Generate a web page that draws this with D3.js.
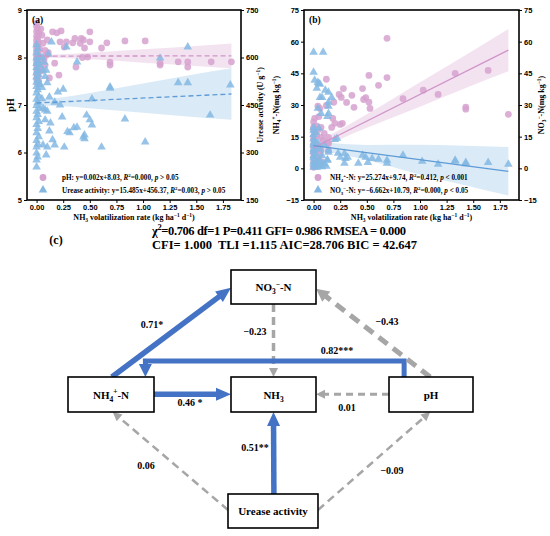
<!DOCTYPE html>
<html>
<head>
<meta charset="utf-8">
<script src="https://cdn.jsdelivr.net/npm/d3@7"></script>
<style>
  body { margin: 0; background: #fff; }
  svg { font-family: "Liberation Serif", "Times New Roman", serif; font-weight: bold; }
  text { white-space: pre; }
</style>
</head>
<body>
<svg id="fig" width="550" height="536"></svg>
<script>
// ---------------- data ----------------
var xTicks = [0, 0.25, 0.5, 0.75, 1.0, 1.25, 1.5, 1.75];
var phTicks = [5, 6, 7, 8, 9];
var ureaseTicks = [150, 300, 450, 600, 750];
var nTicks = [-15, 0, 15, 30, 45, 60, 75];

// panel (a): [NH3 rate, pH]
var phPoints = [
  [0,8.72],[0,8.66],[0.01,8.6],[0,8.55],[0.02,8.5],[0,8.45],[0.01,8.41],[0,8.36],[0.02,8.32],[0,8.28],
  [0.01,8.24],[0,8.2],[0.03,8.17],[0,8.13],[0.01,8.09],[0,8.05],[0.02,8.02],[0,7.98],[0.01,7.94],[0,7.9],
  [0.03,7.87],[0,7.83],[0.01,7.79],[0,7.74],[0.02,7.7],[0,7.65],[0.01,7.6],[0,7.55],[0.02,7.5],[0.01,7.45],
  [0.05,8.47],[0.06,8.3],[0.1,8.37],[0.08,8.15],[0.09,8.05],[0.07,7.95],[0.08,7.84],[0.05,7.72],[0.12,7.57],
  [0.11,8.1],[0.04,8.6],[0.06,8.0],[0.15,8.54],[0.19,8.52],[0.23,8.56],[0.22,8.33],[0.28,8.33],[0.34,8.31],
  [0.26,8.22],[0.17,7.88],[0.21,7.63],[0.36,8.4],[0.41,8.3],[0.42,8.4],[0.45,8.2],[0.44,8.37],[0.5,8.54],
  [0.5,8.33],[0.48,8.01],[0.37,7.8],[0.43,8.0],[0.61,8.2],[0.66,8.31],[0.69,7.9],[0.69,7.84],[0.83,8.35],
  [1.02,8.35],[1.16,7.88],[1.16,7.84],[1.33,7.91],[1.42,7.91],[1.42,7.8],[1.64,7.91],[1.83,7.91]
];
// panel (a): [NH3 rate, urease activity]
var ureasePoints = [
  [0,640],[0.01,628],[0,615],[0.02,605],[0,598],[0.01,590],[0,582],[0.03,575],[0,568],[0.01,560],
  [0,552],[0.02,545],[0,538],[0.01,530],[0,522],[0.03,515],[0,508],[0.01,498],[0,488],[0.02,478],
  [0,468],[0.01,458],[0,448],[0.03,440],[0,430],[0.01,420],[0,410],[0.02,398],[0,388],[0.01,376],
  [0,362],[0.02,350],[0,338],[0.01,326],[0,317],[0,298],[0.01,286],[0,276],[0,254],
  [0.05,600],[0.07,585],[0.06,560],[0.08,540],[0.1,520],[0.05,505],[0.12,475],[0.08,434],[0.1,430],
  [0.08,403],[0.13,393],[0.06,440],[0.12,368],[0.1,317],[0.06,324],[0.09,292],[0.05,470],[0.09,560],
  [0.11,610],[0.14,649],[1.42,633],[1.16,598],[0.38,586],[0.28,633],[1.33,520],[1.42,520],[1.82,513],
  [0.69,507],[0.69,503],[0.52,469],[0.25,500],[0.2,491],[1.63,418],[0.83,406],[0.47,418],[0.5,403],
  [0.52,387],[0.24,412],[0.17,459],[0.22,450],[0.38,380],[0.35,378],[0.31,362],[0.29,366],[0.45,355],
  [0.44,349],[0.45,343],[0.61,317],[1.02,333],[0.15,340],[0.17,324],[0.26,317]
];
// panel (b): [NH3 rate, NH4+-N]
var nh4Points = [
  [0.69,61.6],[0.69,43],[0.52,44],[0.61,39.3],[0.46,37.8],[0.47,32.6],[0.49,33.5],[0.52,31.3],[0.53,28.4],
  [0.36,34.6],[0.38,28.9],[0.31,31.2],[0.28,37.8],[0.26,33.6],[0.24,35],[0.19,31.3],[0.12,42.2],[0.12,29.8],
  [0.18,23.7],[0.25,20.8],[0.27,21.3],[0.2,21.3],[0.17,19.4],[0.84,33],[1.03,37],[1.17,35],[1.33,45],
  [1.64,46.4],[1.43,29],[1.43,28],[1.83,25.6],[0.04,29.5],[0.01,23.7],[0.06,28.4],[0.07,19.4],[0.13,12.3],
  [0.09,13.3],[0.14,11.8],[0.07,14.7],[0.07,8.5],[0.04,5.2],[0.14,8.5],[0.1,16.5],[0.14,14.7],[0.05,24.5],
  [0.03,20],[0,22],[0,19.5],[0,18],[0.01,16.5],[0,15],[0,13.5],[0.01,12],[0,11],[0,10],[0.02,9],[0,8],
  [0,7],[0.01,6],[0,5],[0.02,4],[0,3],[0.01,2],[0.03,1],[0,0.5],[0.02,11],[0.03,15.5],[0.05,10],[0.04,18],
  [0.06,6.5],[0.08,3]
];
// panel (b): [NH3 rate, NO3--N]
var no3Points = [
  [0,55],[0.09,55],[0,45.5],[0.01,41.7],[0.04,40.7],[0.06,39.8],[0.05,40.2],[0.03,37.9],[0.11,37],[0.14,36],
  [0.14,31.3],[0.06,33.6],[0.08,33.6],[0.17,33.6],[0.14,29.4],[0.13,24.6],[0.04,28.4],[0.07,26],[0.14,26],
  [0,19.4],[0.02,17],[0.05,19],[0.2,13.7],[0.22,14.2],[0,18],[0,16],[0,14],[0.01,13],[0,12],[0,11],
  [0.01,10],[0,9],[0,8],[0.02,7],[0,6],[0,5],[0.01,4],[0,3],[0,2],[0.02,1],[0,0.5],[0.01,1.5],[0.03,3],
  [0.03,0.5],[0.04,2],[0.05,4],[0.06,1],[0.07,3],[0.08,0.8],[0.1,2],[0.12,1],[0.13,4],[0.04,12],[0.06,9],
  [0.08,6],[0.1,11],[0.14,8.5],[0.13,3.8],[0.14,7.6],[0.23,7.1],[0.25,5.2],[0.29,7],[0.32,5.2],[0.3,4.7],
  [0.29,2.4],[0.42,2.4],[0.46,6.2],[0.49,5.2],[0.51,2.8],[0.55,4.7],[0.61,4.3],[0.69,3.8],[0.69,2.4],
  [0.84,6.2],[1.02,3.3],[1.17,1.9],[1.33,3.3],[1.33,3.8],[1.43,2.8],[1.43,2.2],[1.64,2.8],[1.83,1.9]
];

// fitted lines (slope, intercept) from the legends
var phFit = [0.002, 8.03];
var ureaseFit = [15.485, 456.37];
var nh4Fit = [25.274, 9.74];
var no3Fit = [-6.662, 10.79];
var fitRange = [0, 1.83];

// confidence band half widths read at these x values
var bandX = [0, 0.25, 0.5, 1.0, 1.5, 1.83];
var phBand = [0.03, 0.04, 0.07, 0.14, 0.21, 0.26];
var ureaseBand = [9, 14, 24, 46, 68, 81];
var nh4Band = [2.0, 2.3, 3.2, 5.8, 8.2, 10];
var no3Band = [2.0, 2.5, 3.6, 7.0, 9.8, 11.5];

var legendA = ["pH: y=0.002x+8.03, ~{R}^{2}=0.000, ~{p} > 0.05",
               "Urease activity: y=15.485x+456.37, ~{R}^{2}=0.003, ~{p} > 0.05"];
var legendB = ["NH_{4}^{+}-N: y=25.274x+9.74, ~{R}^{2}=0.412, ~{p} < 0.001",
               "NO_{3}^{\u2212}-N: y=\u22126.662x+10.79, ~{R}^{2}=0.000, ~{p} < 0.05"];

// path model
var fitStats = ["\u03c7^{2}=0.706 df=1 P=0.411 GFI= 0.986 RMSEA = 0.000",
                "CFI= 1.000  TLI =1.115 AIC=28.706 BIC = 42.647"];
var nodes = [
  {id: "no3", label: "NO_{3}^{\u2212}-N"},
  {id: "nh4", label: "NH_{4}^{+}-N"},
  {id: "nh3", label: "NH_{3}"},
  {id: "ph",  label: "pH"},
  {id: "ure", label: "Urease activity"}
];
var paths = [
  {from: "nh4", to: "no3", coef: "0.71*",   sig: true},
  {from: "no3", to: "nh3", coef: "\u22120.23", sig: false},
  {from: "ph",  to: "nh4", coef: "0.82***", sig: true},
  {from: "nh4", to: "nh3", coef: "0.46 *",  sig: true},
  {from: "ph",  to: "nh3", coef: "0.01",    sig: false},
  {from: "ph",  to: "no3", coef: "\u22120.43", sig: false},
  {from: "ure", to: "nh3", coef: "0.51**",  sig: true},
  {from: "ure", to: "nh4", coef: "0.06",    sig: false},
  {from: "ure", to: "ph",  coef: "\u22120.09", sig: false}
];

// ---------------- layout ----------------
var statsLayout = {x: 152, y: [235, 249], size: 12.5, len: [254, 265]};
var boxes = {
  no3: {x: 231, y: 270, w: 85, h: 34},
  nh4: {x: 68,  y: 377, w: 86, h: 35},
  nh3: {x: 231, y: 377, w: 85, h: 35},
  ph:  {x: 389, y: 377, w: 84, h: 35},
  ure: {x: 228, y: 494, w: 90, h: 34}
};
// anchor points as fractions of the boxes, label spots, line widths
var pathLayout = {
  "nh4-no3": {a: [0.51, 0], b: [0, 0.52], w: 5.5, head: [15, 6.5], lab: [152, 328]},
  "no3-nh3": {a: [0.5, 1], b: [0.5, 0], w: 3.5, head: [9, 4.5], dash: "8,5", lab: [255, 335]},
  "ph-nh4":  {a: [0.18, 0], b: [0.9, 0], elbow: 361, w: 5, head: [13, 6.5], lab: [337, 354]},
  "nh4-nh3": {a: [1, 0.49], b: [0, 0.49], w: 5.5, head: [15, 6.5], lab: [190, 406]},
  "ph-nh3":  {a: [0, 0.49], b: [1, 0.49], w: 3, head: [9, 4.5], dash: "7,5", lab: [347, 411]},
  "ph-no3":  {a: [0.49, 0], b: [1, 0.55], w: 5, head: [13, 6.5], dash: "11,7", lab: [387, 325]},
  "ure-nh3": {a: [0.51, 0], b: [0.5, 1], w: 5.5, head: [14, 6.5], lab: [255, 451]},
  "ure-nh4": {a: [0, 0.47], b: [0.52, 1], w: 2.5, head: [9, 4.5], dash: "8,5", lab: [146, 469]},
  "ure-ph":  {a: [1, 0.47], b: [0.49, 1], w: 2.5, head: [9, 4.5], dash: "8,5", lab: [392, 474]}
};

var blue = "#4472c4", grey = "#a6a6a6";
var pink = "#d6a2cf", sky = "#84b8e3";

var svg = d3.select("#fig");

// text with _{sub}, ^{sup} and ~{italic} pieces
function rich(sel, str, size) {
  var cur = 0;
  str.split(/(_\{[^}]*\}|\^\{[^}]*\}|~\{[^}]*\})/).forEach(function(p) {
    if (!p) return;
    var txt = p, off = 0, fs = size, it = false;
    if (/^[_^~]\{/.test(p)) {
      txt = p.slice(2, -1);
      if (p[0] == "_") { off = size * 0.28; fs = size * 0.68; }
      if (p[0] == "^") { off = -size * 0.38; fs = size * 0.68; }
      if (p[0] == "~") { it = true; }
    }
    sel.append("tspan")
      .attr("dy", off - cur)
      .attr("font-size", fs)
      .attr("font-style", it ? "italic" : null)
      .text(txt);
    cur = off;
  });
  return sel;
}

function styleAxis(g) {
  g.select(".domain").remove();
  g.selectAll("line").attr("stroke", "#000").attr("stroke-width", 1);
  g.selectAll("text").attr("font-size", 7.5).attr("font-weight", "bold").attr("fill", "#000");
}

function bandArea(x, y, fit, band) {
  return d3.area()
    .x(function(d) { return x(d); })
    .y0(function(d, i) { return y(fit[0] * d + fit[1] - band[i]); })
    .y1(function(d, i) { return y(fit[0] * d + fit[1] + band[i]); })
    .curve(d3.curveMonotoneX)(bandX);
}

function fitLine(x, y, fit) {
  return d3.line()
    .x(function(d) { return x(d); })
    .y(function(d) { return y(fit[0] * d + fit[1]); })(fitRange);
}

function drawPanel(o) {
  var g = svg.append("g");
  var x = o.x, yl = o.yl, yr = o.yr;
  var x0 = x.range()[0], x1 = x.range()[1], y0 = yl.range()[1], y1 = yl.range()[0];

  g.append("path").attr("d", bandArea(x, yl, o.fitL, o.bandL)).attr("fill", pink).attr("fill-opacity", 0.3);
  g.append("path").attr("d", bandArea(x, yr, o.fitR, o.bandR)).attr("fill", sky).attr("fill-opacity", 0.3);

  g.selectAll(".c").data(o.ptsL).enter().append("circle")
    .attr("cx", function(d) { return x(d[0]); })
    .attr("cy", function(d) { return yl(d[1]); })
    .attr("r", 3.4)
    .attr("fill", pink).attr("fill-opacity", 0.85);
  g.selectAll(".t").data(o.ptsR).enter().append("path")
    .attr("d", d3.symbol(d3.symbolTriangle, 32))
    .attr("transform", function(d) { return "translate(" + x(d[0]) + "," + yr(d[1]) + ")"; })
    .attr("fill", sky).attr("fill-opacity", 0.85);

  g.append("path").attr("d", fitLine(x, yl, o.fitL)).attr("fill", "none")
    .attr("stroke", "#cf95c8").attr("stroke-width", 1.3).attr("stroke-dasharray", o.dash);
  g.append("path").attr("d", fitLine(x, yr, o.fitR)).attr("fill", "none")
    .attr("stroke", "#5f9bd6").attr("stroke-width", 1.3).attr("stroke-dasharray", o.dash);

  g.append("rect").attr("x", x0).attr("y", y0).attr("width", x1 - x0).attr("height", y1 - y0)
    .attr("fill", "none").attr("stroke", "#000").attr("stroke-width", 1.6);

  g.append("g").attr("transform", "translate(0," + y1 + ")")
    .call(d3.axisBottom(x).tickValues(xTicks).tickFormat(d3.format(".2f")).tickSize(3).tickPadding(2))
    .call(styleAxis);
  g.append("g").attr("transform", "translate(" + x0 + ",0)")
    .call(d3.axisLeft(yl).tickValues(o.ticksL).tickFormat(d3.format("d")).tickSize(3).tickPadding(2))
    .call(styleAxis);
  g.append("g").attr("transform", "translate(" + x1 + ",0)")
    .call(d3.axisRight(yr).tickValues(o.ticksR).tickFormat(d3.format("d")).tickSize(3).tickPadding(2))
    .call(styleAxis);

  g.append("text").attr("x", x0 + 5).attr("y", y0 + 13).attr("font-size", 9.5).text(o.tag);

  rich(g.append("text").attr("x", (x0 + x1) / 2).attr("y", 220).attr("text-anchor", "middle"),
    "NH_{3} volatilization rate (kg ha^{\u22121} d^{\u22121})", 8);
  rich(g.append("text").attr("text-anchor", "middle")
    .attr("transform", "translate(" + o.labLx + "," + (y0 + y1) / 2 + ") rotate(-90)"), o.labL, o.labLsize);
  rich(g.append("text").attr("text-anchor", "middle")
    .attr("transform", "translate(" + o.labRx + "," + (y0 + y1) / 2 + ") rotate(-90)"), o.labR, 8);

  // legend
  var lx = x0 + o.legX;
  g.append("circle").attr("cx", lx).attr("cy", 177.5).attr("r", 3.4).attr("fill", pink);
  g.append("path").attr("d", d3.symbol(d3.symbolTriangle, 32))
    .attr("transform", "translate(" + lx + ",190)").attr("fill", sky);
  rich(g.append("text").attr("x", lx + o.legGap).attr("y", 180), o.legend[0], 7.2);
  rich(g.append("text").attr("x", lx + o.legGap).attr("y", 192.5), o.legend[1], 7.2);
}

drawPanel({
  tag: "(a)",
  x: d3.scaleLinear().domain([-0.09, 1.92]).range([27, 241]),
  yl: d3.scaleLinear().domain([5, 9]).range([200, 10]),
  yr: d3.scaleLinear().domain([150, 750]).range([200, 10]),
  ticksL: phTicks, ticksR: ureaseTicks,
  ptsL: phPoints, ptsR: ureasePoints,
  fitL: phFit, fitR: ureaseFit, bandL: phBand, bandR: ureaseBand,
  dash: "5,3",
  labL: "pH", labLx: 14, labLsize: 10,
  labR: "Urease activity (U g^{\u22121})", labRx: 263,
  legend: legendA, legX: 16, legGap: 19
});

drawPanel({
  tag: "(b)",
  x: d3.scaleLinear().domain([-0.09, 1.93]).range([304, 519]),
  yl: d3.scaleLinear().domain([-15, 75]).range([200, 10]),
  yr: d3.scaleLinear().domain([-15, 75]).range([200, 10]),
  ticksL: nTicks, ticksR: nTicks,
  ptsL: nh4Points, ptsR: no3Points,
  fitL: nh4Fit, fitR: no3Fit, bandL: nh4Band, bandR: no3Band,
  dash: null,
  labL: "NH_{4}^{+}-N(mg kg^{\u22121})", labLx: 279, labLsize: 8,
  labR: "NO_{3}^{\u2212}-N(mg kg^{\u22121})", labRx: 544,
  legend: legendB, legX: 14, legGap: 12
});

// ---------------- (c) path model ----------------
svg.append("text").attr("x", 56).attr("y", 244).attr("text-anchor", "middle").attr("font-size", 12).text("(c)");
fitStats.forEach(function(s, i) {
  rich(svg.append("text").attr("x", statsLayout.x).attr("y", statsLayout.y[i])
    .attr("textLength", statsLayout.len[i]).attr("lengthAdjust", "spacing"), s, statsLayout.size);
});

function anchor(id, f) {
  var b = boxes[id];
  return [b.x + f[0] * b.w, b.y + f[1] * b.h];
}

var pg = svg.append("g");
paths.forEach(function(p) {
  var L = pathLayout[p.from + "-" + p.to];
  var col = p.sig ? blue : grey;
  var a = anchor(p.from, L.a), b = anchor(p.to, L.b);
  var pts = L.elbow ? [a, [a[0], L.elbow], [b[0], L.elbow], b] : [a, b];
  // pull the line back so the head sits at the end
  var n = pts.length, pa = pts[n - 2], pb = pts[n - 1];
  var dx = pb[0] - pa[0], dy = pb[1] - pa[1], len = Math.sqrt(dx * dx + dy * dy);
  var ux = dx / len, uy = dy / len;
  var hl = L.head[0], hw = L.head[1];
  var base = [pb[0] - ux * hl, pb[1] - uy * hl];
  var linePts = pts.slice(0, n - 1).concat([[pb[0] - ux * (hl - 1), pb[1] - uy * (hl - 1)]]);
  pg.append("path")
    .attr("d", d3.line()(linePts))
    .attr("fill", "none").attr("stroke", col).attr("stroke-width", L.w)
    .attr("stroke-linejoin", "miter")
    .attr("stroke-dasharray", L.dash || null);
  pg.append("path")
    .attr("d", d3.line()([pb, [base[0] - uy * hw, base[1] + ux * hw], [base[0] + uy * hw, base[1] - ux * hw]]) + "Z")
    .attr("fill", col);
  pg.append("text").attr("x", L.lab[0]).attr("y", L.lab[1]).attr("text-anchor", "middle")
    .attr("font-size", 10).text(p.coef);
});

var ng = svg.append("g");
nodes.forEach(function(nd) {
  var b = boxes[nd.id];
  ng.append("rect").attr("x", b.x).attr("y", b.y).attr("width", b.w).attr("height", b.h)
    .attr("fill", "#fff").attr("stroke", "#000").attr("stroke-width", 1.6);
  rich(ng.append("text").attr("x", b.x + b.w / 2).attr("y", b.y + b.h / 2 + 4).attr("text-anchor", "middle")
    .attr("font-size", 11), nd.label, 11);
});
</script>
</body>
</html>
